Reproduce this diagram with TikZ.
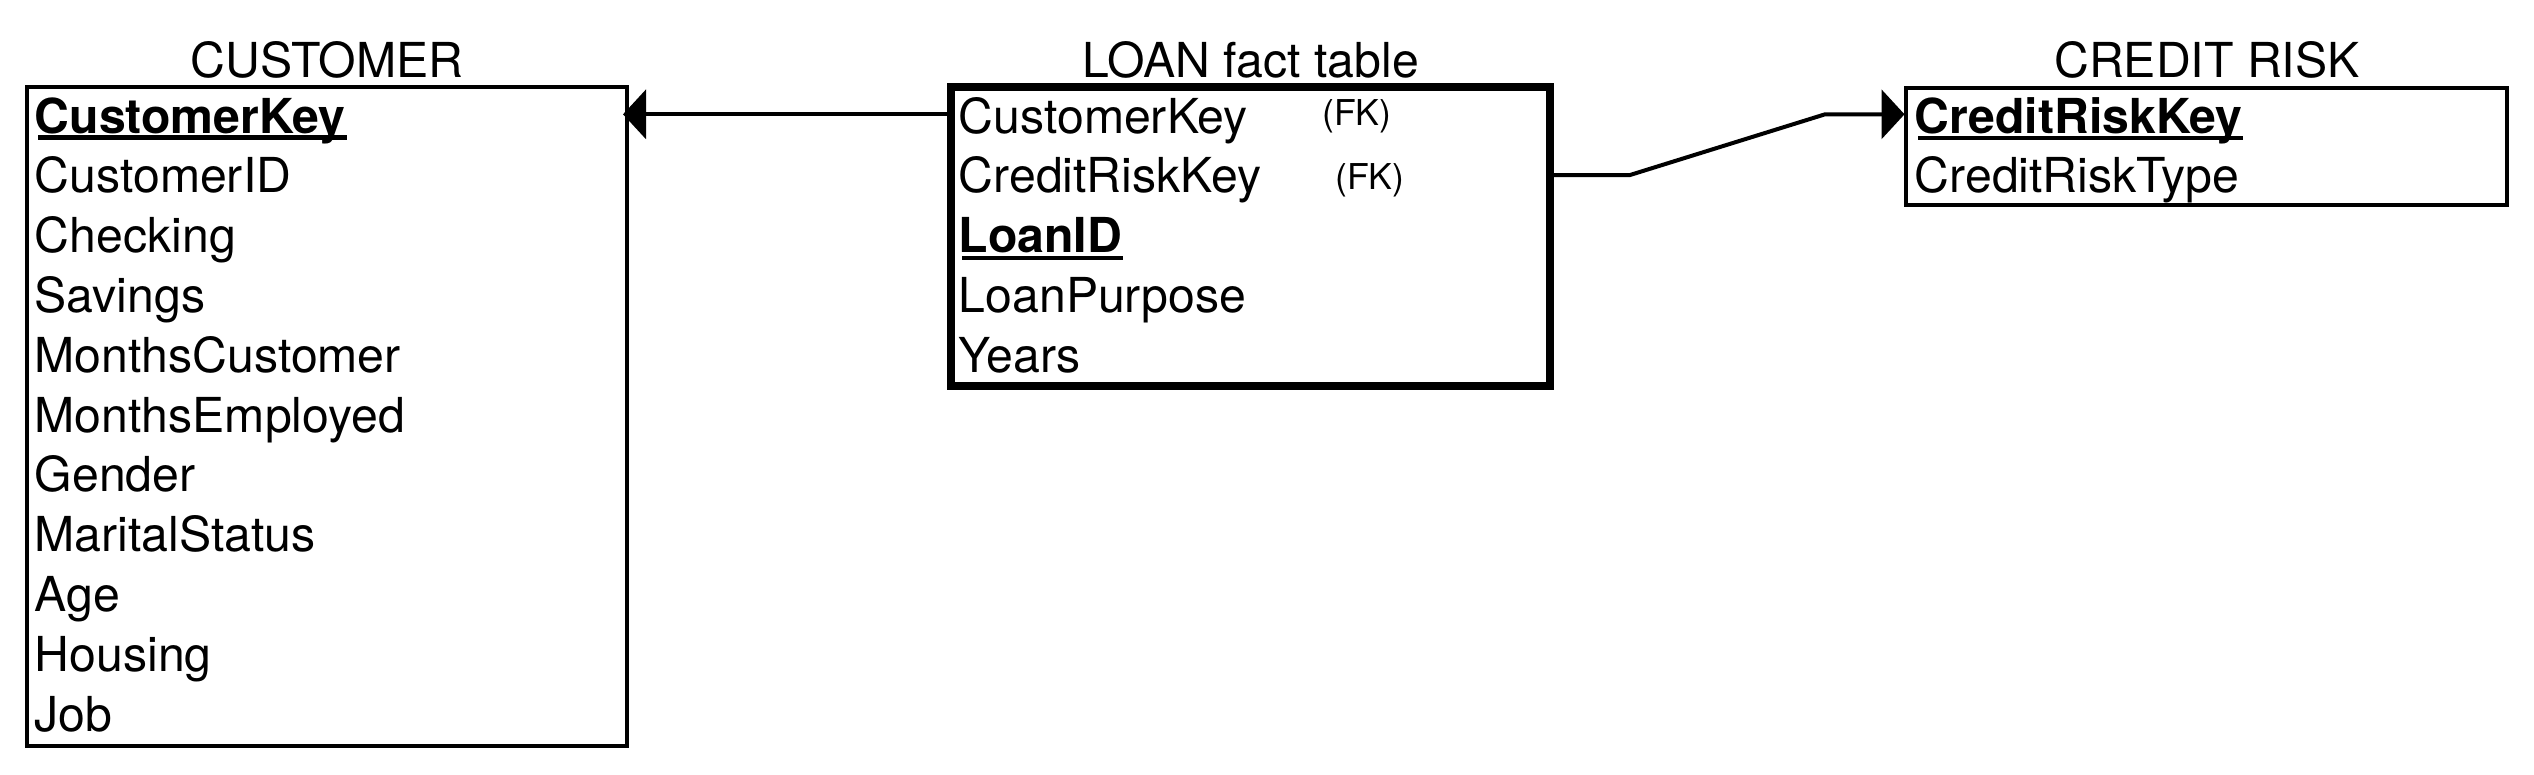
\documentclass[tikz,border=0pt]{standalone}
\usepackage{fontspec}
\setmainfont{TeX Gyre Heros}
\usetikzlibrary{arrows.meta,calc}
\begin{document}
\begin{tikzpicture}[x=0.25pt,y=-0.25pt,
  box/.style={draw,line width=1pt,inner sep=0pt,outer sep=0pt,rectangle},
  factbox/.style={box,line width=1.9pt},
  fld/.style={anchor=base west,inner sep=0pt,font=\fontsize{12.05pt}{14pt}\selectfont},
  keyfld/.style={anchor=base west,inner sep=0pt,font=\fontsize{12.05pt}{14pt}\selectfont\bfseries},
  ttl/.style={anchor=base,inner sep=0pt,font=\fontsize{12.05pt}{14pt}\selectfont},
  fk/.style={anchor=base west,inner sep=0pt,font=\fontsize{8.9pt}{10pt}\selectfont},
  conn/.style={line width=1pt,-{Triangle[length=5.75pt,width=12.25pt]}},
  uline/.style={line width=1.15pt}]
\useasboundingbox (0,0) rectangle (2534,774);
% boxes
\node[box,minimum width=150pt,minimum height=164.75pt] (cust) at (327,416.5) {};
\node[factbox,minimum width=149.75pt,minimum height=74.75pt] (loan) at (1250.5,236.5) {};
\node[box,minimum width=150.25pt,minimum height=29.25pt] (risk) at (2206.5,146.5) {};
% titles
\node[ttl] (custT) at (327,77) {CUSTOMER};
\node[ttl] (loanT) at (1251,77) {LOAN fact table};
\node[ttl] (riskT) at (2207,77) {CREDIT RISK};
% customer fields
\node[keyfld] (ck) at (34,133) {CustomerKey};
\draw[uline] ([xshift=1pt,yshift=-1.15pt]ck.base west) -- ([yshift=-1.15pt]ck.base east);
\foreach \t [count=\i from 1] in {CustomerID,Checking,Savings,MonthsCustomer,MonthsEmployed,Gender,MaritalStatus,Age,Housing,Job}
  \node[fld] (cf\i) at (34,{133+59.8*\i}) {\t};
% loan fields
\node[fld] (lf0) at (958,133) {CustomerKey};
\node[fld] (lf1) at (958,192.8) {CreditRiskKey};
\node[keyfld] (lk) at (958,252.6) {LoanID};
\draw[uline] ([xshift=1pt,yshift=-1.3pt]lk.base west) -- ([yshift=-1.3pt]lk.base east);
\node[fld] (lf3) at (958,312.4) {LoanPurpose};
\node[fld] (lf4) at (958,372.2) {Years};
\node[fk] (fk1) at (1321.5,125.5) {(FK)};
\node[fk] (fk2) at (1334.5,189) {(FK)};
% credit risk fields
\node[keyfld] (rk) at (1914,133) {CreditRiskKey};
\draw[uline] ([xshift=1pt,yshift=-1.2pt]rk.base west) -- ([yshift=-1.2pt]rk.base east);
\node[fld] (rf1) at (1914,192.8) {CreditRiskType};
% connectors
\draw[conn] ($(loan.north west)+(0,27.3)$) -- ($(cust.north east)+(-4,27.3)$);
\draw[conn] ($(loan.north east)+(0,88)$) -- ++(80,0) -- ($(risk.north west)+(-81,26.3)$) -- ($(risk.north west)+(-1.5,26.3)$);
\end{tikzpicture}
\end{document}
